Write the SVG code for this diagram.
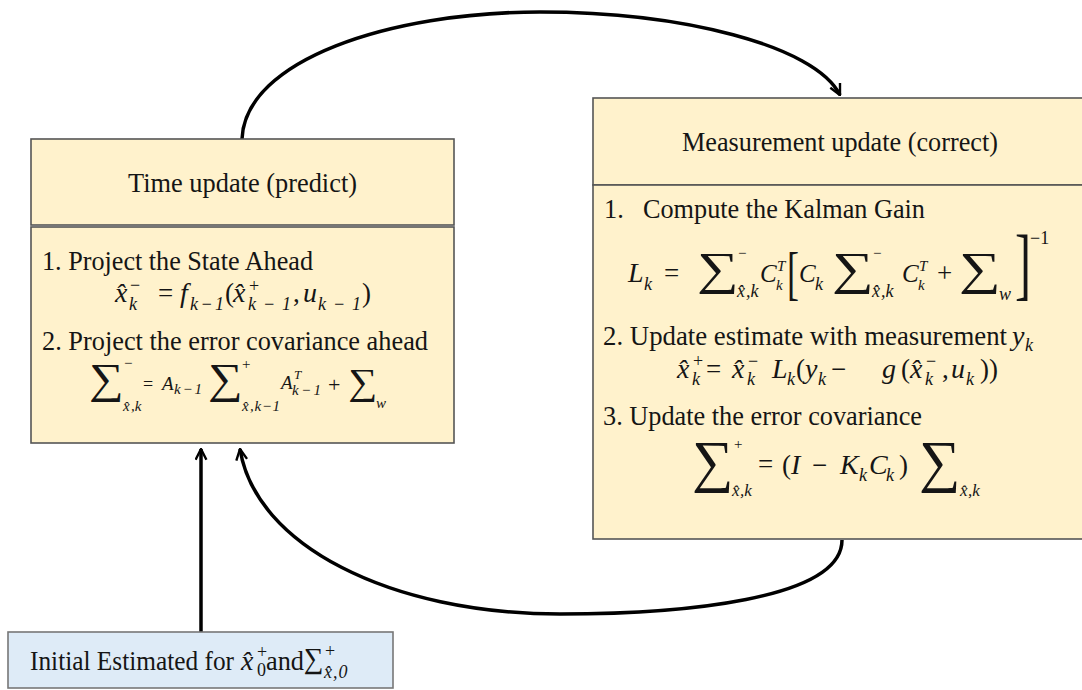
<svg xmlns="http://www.w3.org/2000/svg" width="1082" height="690" viewBox="0 0 1082 690">
<style>
.box{fill:#FFF2CC;stroke:#555;stroke-width:1.6}
.ibox{fill:#DEEBF7;stroke:#777;stroke-width:1.6}
.t{font-family:"Liberation Serif","Times New Roman",serif;font-size:26.3px;fill:#151515}
.m{font-family:"Liberation Serif","Times New Roman",serif;font-style:italic;font-size:28px;fill:#151515}
.n{font-family:"Liberation Serif","Times New Roman",serif;font-size:27px;fill:#151515}
.s{font-family:"Liberation Serif","Times New Roman",serif;font-style:italic;font-size:18px;fill:#151515}
.sn{font-family:"Liberation Serif","Times New Roman",serif;font-size:18px;fill:#151515}
.xs{font-family:"Liberation Serif","Times New Roman",serif;font-style:italic;font-size:15px;fill:#151515}
.xsn{font-family:"Liberation Serif","Times New Roman",serif;font-size:15px;fill:#151515}
.sig{font-family:"Liberation Serif","Times New Roman",serif;font-size:46px;fill:#151515}
.c{fill:none;stroke:#000;stroke-width:3.5}
</style>
<defs>
<marker id="ah" viewBox="0 0 12 12" refX="11" refY="6" markerWidth="13" markerHeight="13" markerUnits="userSpaceOnUse" orient="auto">
<path d="M1,1 L11,6 L1,11" fill="none" stroke="#000" stroke-width="2.2"/>
</marker>
</defs>

<g id="connectors">
<path class="c" d="M242,139 C245,60 390,12 540,12 C680,12 815,45 840,95" marker-end="url(#ah)"/>
<path class="c" d="M842,540 C842,600 680,614 560,614 C390,614 255,545 240,449" marker-end="url(#ah)"/>
<path class="c" d="M201,632 L201,449" marker-end="url(#ah)"/>
</g>

<g id="time-update">
<rect class="box" x="31" y="139" width="423" height="86"/>
<rect class="box" x="31" y="227" width="423" height="216"/>
<text class="t" x="128" y="192" textLength="229" lengthAdjust="spacingAndGlyphs">Time update (predict)</text>
<text class="t" x="42" y="270" textLength="271" lengthAdjust="spacingAndGlyphs">1. Project the State Ahead</text>
<text class="m" x="115" y="302">x̂</text>
<text class="sn" x="130" y="291">−</text>
<text class="s" x="129" y="310">k</text>
<text class="n" x="158" y="302">=</text>
<text class="m" x="180" y="302">f</text>
<text class="s" x="190" y="310" textLength="34" lengthAdjust="spacing">k−1</text>
<text class="n" x="225" y="302">(</text>
<text class="m" x="233" y="302">x̂</text>
<text class="sn" x="249" y="292">+</text>
<text class="s" x="248" y="310" textLength="43" lengthAdjust="spacing">k−1</text>
<text class="n" x="293" y="302">,</text>
<text class="m" x="303" y="302">u</text>
<text class="s" x="318" y="310" textLength="43" lengthAdjust="spacing">k−1</text>
<text class="n" x="362" y="302">)</text>
<text class="t" x="42" y="350" textLength="386" lengthAdjust="spacingAndGlyphs">2. Project the error covariance ahead</text>
<text class="sig" x="0" y="0" transform="translate(89,393) scale(1.13,1)" style="font-size:43px">∑</text>
<text class="xsn" x="124" y="368">−</text>
<text class="xs" x="123" y="411">x̂</text>
<text class="xs" x="131" y="411">,k</text>
<text class="sn" x="143" y="390">=</text>
<text class="s" x="162" y="390" style="font-size:19px">A</text>
<text class="xs" x="174" y="394" textLength="28" lengthAdjust="spacing">k−1</text>
<text class="sig" x="0" y="0" transform="translate(208,393) scale(1.13,1)" style="font-size:43px">∑</text>
<text class="xsn" x="242" y="369">+</text>
<text class="xs" x="242" y="411">x̂</text>
<text class="xs" x="250" y="411" textLength="30" lengthAdjust="spacing">,k−1</text>
<text class="s" x="281" y="389" style="font-size:19px">A</text>
<text class="xs" x="294" y="379" style="font-size:13px">T</text>
<text class="xs" x="292" y="395" textLength="29" lengthAdjust="spacing">k−1</text>
<text class="n" x="328" y="392" style="font-size:22px">+</text>
<text class="sig" x="0" y="0" transform="translate(348,394) scale(1.1,1)" style="font-size:37px">∑</text>
<text class="xs" x="376" y="408">w</text>
</g>

<g id="measurement-update">
<rect class="box" x="593" y="98" width="500" height="87"/>
<rect class="box" x="593" y="185" width="500" height="354"/>
<text class="t" x="682" y="151" textLength="316" lengthAdjust="spacingAndGlyphs">Measurement update (correct)</text>
<text class="t" x="604" y="218">1.</text>
<text class="t" x="643" y="218" textLength="282" lengthAdjust="spacingAndGlyphs">Compute the Kalman Gain</text>
<text class="m" x="628" y="282">L</text>
<text class="s" x="644" y="290">k</text>
<text class="n" x="664" y="282">=</text>
<text class="sig" x="0" y="0" transform="translate(697,284) scale(1.27,1)">∑</text>
<text class="xsn" x="738" y="258">−</text>
<text class="s" x="737" y="297">x̂</text>
<text class="s" x="746" y="297">,k</text>
<text class="m" x="760" y="282" style="font-size:25px">C</text>
<text class="xs" x="777" y="271">T</text>
<text class="xs" x="776" y="290">k</text>
<text class="n" x="0" y="0" transform="translate(787,293) scale(0.6,1)" style="font-size:60px">[</text>
<text class="m" x="799" y="282" style="font-size:25px">C</text>
<text class="s" x="815" y="290">k</text>
<text class="sig" x="0" y="0" transform="translate(832,284) scale(1.27,1)">∑</text>
<text class="xsn" x="873" y="258">−</text>
<text class="s" x="872" y="297">x̂</text>
<text class="s" x="881" y="297">,k</text>
<text class="m" x="902" y="282" style="font-size:25px">C</text>
<text class="xs" x="919" y="271">T</text>
<text class="xs" x="918" y="290">k</text>
<text class="n" x="937" y="282">+</text>
<text class="sig" x="0" y="0" transform="translate(959,284) scale(1.27,1)">∑</text>
<text class="s" x="999" y="300">w</text>
<text class="n" x="0" y="0" transform="translate(1015,290) scale(0.6,1)" style="font-size:80px">]</text>
<text class="sn" x="1030" y="244">−1</text>
<text class="t" x="603" y="345" textLength="404" lengthAdjust="spacingAndGlyphs">2. Update estimate with measurement</text>
<text class="m" x="1012" y="345">y</text>
<text class="s" x="1025" y="351">k</text>
<text class="m" x="677" y="378">x̂</text>
<text class="sn" x="693" y="367">+</text>
<text class="s" x="692" y="385">k</text>
<text class="n" x="706" y="378">=</text>
<text class="m" x="732" y="378">x̂</text>
<text class="sn" x="748" y="367">−</text>
<text class="s" x="747" y="385">k</text>
<text class="m" x="772" y="378">L</text>
<text class="s" x="787" y="385">k</text>
<text class="n" x="796" y="378">(</text>
<text class="m" x="805" y="378">y</text>
<text class="s" x="818" y="385">k</text>
<text class="n" x="831" y="378">−</text>
<text class="m" x="882" y="378">g</text>
<text class="n" x="901" y="378">(</text>
<text class="m" x="910" y="378">x̂</text>
<text class="sn" x="926" y="367">−</text>
<text class="s" x="925" y="385">k</text>
<text class="n" x="942" y="378">,</text>
<text class="m" x="951" y="378">u</text>
<text class="s" x="966" y="385">k</text>
<text class="n" x="980" y="378">))</text>
<text class="t" x="603" y="425" textLength="319" lengthAdjust="spacingAndGlyphs">3. Update the error covariance</text>
<text class="sig" x="0" y="0" transform="translate(692,481)" style="font-size:58px">∑</text>
<text class="xsn" x="734" y="449">+</text>
<text class="s" x="732" y="496" style="font-size:17px">x̂</text>
<text class="s" x="740" y="496" style="font-size:17px">,k</text>
<text class="n" x="758" y="473">=</text>
<text class="n" x="782" y="474">(</text>
<text class="m" x="791" y="474">I</text>
<text class="n" x="812" y="474">−</text>
<text class="m" x="840" y="474">K</text>
<text class="s" x="859" y="481">k</text>
<text class="m" x="869" y="474">C</text>
<text class="s" x="886" y="481">k</text>
<text class="n" x="899" y="474">)</text>
<text class="sig" x="0" y="0" transform="translate(919,481)" style="font-size:58px">∑</text>
<text class="s" x="960" y="496" style="font-size:17px">x̂</text>
<text class="s" x="968" y="496" style="font-size:17px">,k</text>
</g>

<g id="initial-estimate">
<rect class="ibox" x="8" y="632" width="385" height="56"/>
<text class="t" x="30" y="670" textLength="204" lengthAdjust="spacingAndGlyphs">Initial Estimated for</text>
<text class="m" x="241" y="670">x̂</text>
<text class="sn" x="257" y="658">+</text>
<text class="sn" x="257" y="676">0</text>
<text class="t" x="266" y="670">and</text>
<text class="sig" x="0" y="0" transform="translate(304,668) scale(0.95,1)" style="font-size:29px">∑</text>
<text class="sn" x="325" y="657">+</text>
<text class="s" x="324" y="678">x̂</text>
<text class="s" x="333" y="678" style="letter-spacing:1px">,0</text>
</g>
</svg>
